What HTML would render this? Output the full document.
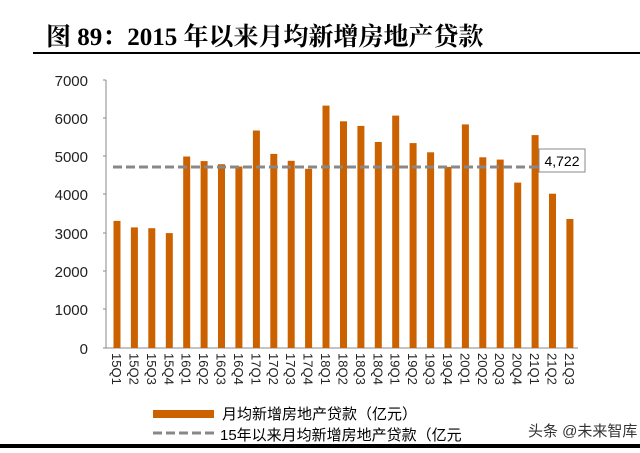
<!DOCTYPE html><html><head><meta charset="utf-8"><style>body{margin:0;background:#fff}svg text{font-family:"Liberation Sans","Noto Sans CJK SC",sans-serif}</style></head><body>
<svg width="640" height="448" xmlns="http://www.w3.org/2000/svg">
<text x="46" y="45" font-size="25" font-weight="bold" style="font-family:'Liberation Serif','Noto Serif CJK SC',serif">图 89：2015 年以来月均新增房地产贷款</text>
<rect x="33" y="52" width="607" height="2" fill="#000"/>
<g font-size="15" fill="#222" text-anchor="end">
<text x="88" y="86">7000</text><text x="88" y="124">6000</text><text x="88" y="162">5000</text><text x="88" y="200">4000</text><text x="88" y="239">3000</text><text x="88" y="277">2000</text><text x="88" y="315">1000</text><text x="88" y="354">0</text></g>
<g stroke="#888" stroke-width="1"><line x1="106" y1="80" x2="106" y2="348"/><line x1="106" y1="348" x2="578" y2="348"/>
<line x1="103" y1="80" x2="106" y2="80"/><line x1="103" y1="118" x2="106" y2="118"/><line x1="103" y1="156" x2="106" y2="156"/><line x1="103" y1="194" x2="106" y2="194"/><line x1="103" y1="233" x2="106" y2="233"/><line x1="103" y1="271" x2="106" y2="271"/><line x1="103" y1="309" x2="106" y2="309"/><line x1="103" y1="348" x2="106" y2="348"/></g>
<g fill="#cc6100">
<rect x="113.5" y="220.9" width="7" height="127.1"/>
<rect x="130.9" y="227.4" width="7" height="120.6"/>
<rect x="148.3" y="228.2" width="7" height="119.8"/>
<rect x="165.8" y="233.1" width="7" height="114.9"/>
<rect x="183.2" y="156.5" width="7" height="191.5"/>
<rect x="200.6" y="161.1" width="7" height="186.9"/>
<rect x="218.0" y="164.2" width="7" height="183.8"/>
<rect x="235.4" y="166.5" width="7" height="181.5"/>
<rect x="252.9" y="130.5" width="7" height="217.5"/>
<rect x="270.3" y="153.9" width="7" height="194.1"/>
<rect x="287.7" y="160.8" width="7" height="187.2"/>
<rect x="305.1" y="168.8" width="7" height="179.2"/>
<rect x="322.5" y="105.6" width="7" height="242.4"/>
<rect x="340.0" y="121.3" width="7" height="226.7"/>
<rect x="357.4" y="125.9" width="7" height="222.1"/>
<rect x="374.8" y="142.0" width="7" height="206.0"/>
<rect x="392.2" y="115.6" width="7" height="232.4"/>
<rect x="409.6" y="143.1" width="7" height="204.9"/>
<rect x="427.1" y="152.3" width="7" height="195.7"/>
<rect x="444.5" y="166.9" width="7" height="181.1"/>
<rect x="461.9" y="124.4" width="7" height="223.6"/>
<rect x="479.3" y="157.3" width="7" height="190.7"/>
<rect x="496.7" y="159.6" width="7" height="188.4"/>
<rect x="514.2" y="182.6" width="7" height="165.4"/>
<rect x="531.6" y="135.1" width="7" height="212.9"/>
<rect x="549.0" y="193.7" width="7" height="154.3"/>
<rect x="566.4" y="219.0" width="7" height="129.0"/>
</g>
<g font-size="13" fill="#222">
<text transform="translate(112,353) rotate(90)">15Q1</text>
<text transform="translate(129.4,353) rotate(90)">15Q2</text>
<text transform="translate(146.8,353) rotate(90)">15Q3</text>
<text transform="translate(164.3,353) rotate(90)">15Q4</text>
<text transform="translate(181.7,353) rotate(90)">16Q1</text>
<text transform="translate(199.1,353) rotate(90)">16Q2</text>
<text transform="translate(216.5,353) rotate(90)">16Q3</text>
<text transform="translate(233.9,353) rotate(90)">16Q4</text>
<text transform="translate(251.4,353) rotate(90)">17Q1</text>
<text transform="translate(268.8,353) rotate(90)">17Q2</text>
<text transform="translate(286.2,353) rotate(90)">17Q3</text>
<text transform="translate(303.6,353) rotate(90)">17Q4</text>
<text transform="translate(321,353) rotate(90)">18Q1</text>
<text transform="translate(338.5,353) rotate(90)">18Q2</text>
<text transform="translate(355.9,353) rotate(90)">18Q3</text>
<text transform="translate(373.3,353) rotate(90)">18Q4</text>
<text transform="translate(390.7,353) rotate(90)">19Q1</text>
<text transform="translate(408.1,353) rotate(90)">19Q2</text>
<text transform="translate(425.6,353) rotate(90)">19Q3</text>
<text transform="translate(443,353) rotate(90)">19Q4</text>
<text transform="translate(460.4,353) rotate(90)">20Q1</text>
<text transform="translate(477.8,353) rotate(90)">20Q2</text>
<text transform="translate(495.2,353) rotate(90)">20Q3</text>
<text transform="translate(512.7,353) rotate(90)">20Q4</text>
<text transform="translate(530.1,353) rotate(90)">21Q1</text>
<text transform="translate(547.5,353) rotate(90)">21Q2</text>
<text transform="translate(564.9,353) rotate(90)">21Q3</text>
</g>
<line x1="113" y1="167" x2="573" y2="167" stroke="#888" stroke-width="3" stroke-dasharray="9,4"/>
<line x1="568" y1="167" x2="568" y2="172" stroke="#888"/>
<rect x="539" y="149" width="46" height="23" fill="#fff" stroke="#888"/>
<text x="562" y="166" font-size="14" text-anchor="middle">4,722</text>
<rect x="153" y="410" width="61" height="8" fill="#cc6100"/>
<text x="222" y="419" font-size="15">月均新增房地产贷款（亿元）</text>
<line x1="153" y1="433" x2="214" y2="433" stroke="#888" stroke-width="3" stroke-dasharray="9,4"/>
<text x="220" y="440" font-size="15">15年以来月均新增房地产贷款（亿元</text>
<text x="528" y="436" font-size="15" fill="#333">头条 @未来智库</text>
<rect x="0" y="444" width="640" height="4" fill="#000"/>
</svg></body></html>
